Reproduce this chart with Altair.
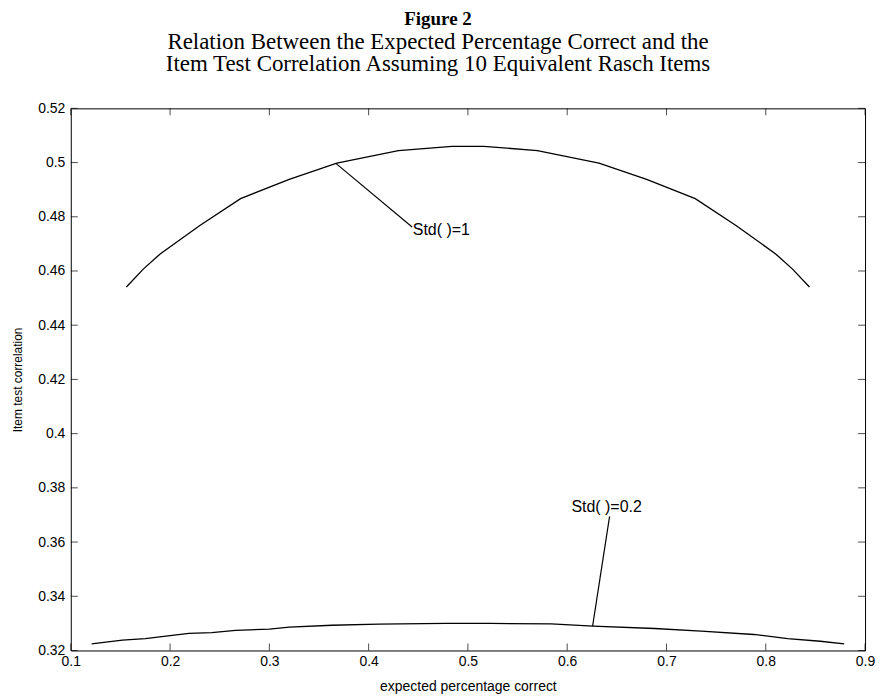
import altair as alt
import pandas as pd

# ---- data ----
upper_x = [0.156, 0.173, 0.190, 0.230, 0.271, 0.320, 0.368, 0.430, 0.484,
           0.516, 0.570, 0.632, 0.680, 0.729, 0.770, 0.810, 0.827, 0.844]
upper_y = [0.4541, 0.4607, 0.4663, 0.4768, 0.4867, 0.4938, 0.4998, 0.5044, 0.5060,
           0.5060, 0.5044, 0.4998, 0.4938, 0.4867, 0.4768, 0.4663, 0.4607, 0.4541]

lower_x = [0.121, 0.152, 0.175, 0.200, 0.219, 0.242, 0.266, 0.300, 0.320, 0.363, 0.410,
           0.478, 0.522, 0.584, 0.626, 0.688, 0.735, 0.788, 0.822, 0.855, 0.879]
lower_y = [0.3224, 0.3238, 0.3244, 0.3255, 0.3263, 0.3266, 0.3274, 0.3279, 0.3286, 0.3293, 0.3297,
           0.3300, 0.3300, 0.3298, 0.3290, 0.3281, 0.3271, 0.3259, 0.3244, 0.3234, 0.3224]

x_ticks = [0.1, 0.2, 0.3, 0.4, 0.5, 0.6, 0.7, 0.8, 0.9]
y_ticks = [0.32, 0.34, 0.36, 0.38, 0.40, 0.42, 0.44, 0.46, 0.48, 0.50, 0.52]

ann_labels = ["Std( )=1", "Std( )=0.2"]
ann_from_x = [0.3667, 0.6256]
ann_from_y = [0.4998, 0.3290]
ann_to_x = [0.4438, 0.6427]
ann_to_y = [0.4762, 0.3695]
ann_text_x = [0.4445, 0.6397]
ann_text_y = [0.4752, 0.3731]

# ---- tables ----
curves = pd.DataFrame({
    "x": upper_x + lower_x,
    "y": upper_y + lower_y,
    "series": ["std1"] * len(upper_x) + ["std02"] * len(lower_x),
})
xt = pd.DataFrame({"v": x_ticks})
yt = pd.DataFrame({"v": y_ticks})
ann = pd.DataFrame({
    "label": ann_labels, "x1": ann_from_x, "y1": ann_from_y,
    "x2": ann_to_x, "y2": ann_to_y, "tx": ann_text_x, "ty": ann_text_y,
})

XMIN, XMAX = x_ticks[0], x_ticks[-1]
YMIN, YMAX = y_ticks[0], y_ticks[-1]
xs = alt.Scale(domain=[XMIN, XMAX], nice=False, zero=False)
ys = alt.Scale(domain=[YMIN, YMAX], nice=False, zero=False)

SANS = "Liberation Sans"

X_AX = alt.Axis(title="expected percentage correct", values=x_ticks, format=".1f",
                ticks=False, domain=False, grid=False,
                labelFont=SANS, labelFontSize=14, labelColor="black", labelPadding=4,
                titleFont=SANS, titleFontSize=14, titleFontWeight="normal",
                titleColor="black", titlePadding=11, labelFlush=False)
Y_AX = alt.Axis(title="Item test correlation", values=y_ticks, format="~g",
                ticks=False, domain=False, grid=False,
                labelFont=SANS, labelFontSize=14, labelColor="black", labelPadding=6,
                titleFont=SANS, titleFontSize=12, titleFontWeight="normal",
                titleColor="black", titlePadding=13, labelFlush=False)


def X(field):
    return alt.X(field, type="quantitative", scale=xs, axis=X_AX)


def Y(field):
    return alt.Y(field, type="quantitative", scale=ys, axis=Y_AX)


lines = alt.Chart(curves).mark_line(color="black", strokeWidth=1.3).encode(
    x=X("x"), y=Y("y"), detail="series:N")

tick_len = 7
bottom_ticks = alt.Chart(xt).mark_tick(orient="vertical", size=tick_len, thickness=1,
                                       color="black", yOffset=-tick_len / 2).encode(
    x=X("v"), y=alt.datum(YMIN))
top_ticks = alt.Chart(xt).mark_tick(orient="vertical", size=tick_len, thickness=1,
                                    color="black", yOffset=tick_len / 2).encode(
    x=X("v"), y=alt.datum(YMAX))
left_ticks = alt.Chart(yt).mark_tick(orient="horizontal", size=tick_len, thickness=1,
                                     color="black", xOffset=tick_len / 2).encode(
    y=Y("v"), x=alt.datum(XMIN))
right_ticks = alt.Chart(yt).mark_tick(orient="horizontal", size=tick_len, thickness=1,
                                      color="black", xOffset=-tick_len / 2).encode(
    y=Y("v"), x=alt.datum(XMAX))

leaders = alt.Chart(ann).mark_rule(color="black", strokeWidth=1.2).encode(
    x=X("x1"), y=Y("y1"), x2="x2:Q", y2="y2:Q")

text1 = alt.Chart(ann.iloc[[0]]).mark_text(align="left", baseline="middle", font=SANS,
                                           fontSize=16, color="black").encode(
    x=X("tx"), y=Y("ty"), text="label:N")
text2 = alt.Chart(ann.iloc[[1]]).mark_text(align="center", baseline="middle", font=SANS,
                                           fontSize=16, color="black").encode(
    x=X("tx"), y=Y("ty"), text="label:N")

chart = alt.layer(lines, bottom_ticks, top_ticks, left_ticks, right_ticks, leaders, text1, text2).properties(
    width=797, height=544,
    background="white",
    autosize=alt.AutoSizeParams(type="none"),
    padding={"left": 63, "top": 99.5, "right": 10, "bottom": 48},
    title=alt.Title(
        text="Figure 2",
        subtitle=["Relation Between the Expected Percentage Correct and the",
                  "Item Test Correlation Assuming 10 Equivalent Rasch Items"],
        font="Liberation Serif", fontSize=19, fontWeight="bold", color="black",
        subtitleFont="Liberation Serif", subtitleFontSize=23, subtitleColor="black",
        subtitleLineHeight=23, subtitlePadding=2,
        anchor="middle", frame="group", dx=-30, offset=25,
    ),
).configure_view(stroke="black", strokeWidth=1)

chart.save("out.html", embed_options={"renderer": "svg", "actions": False})
